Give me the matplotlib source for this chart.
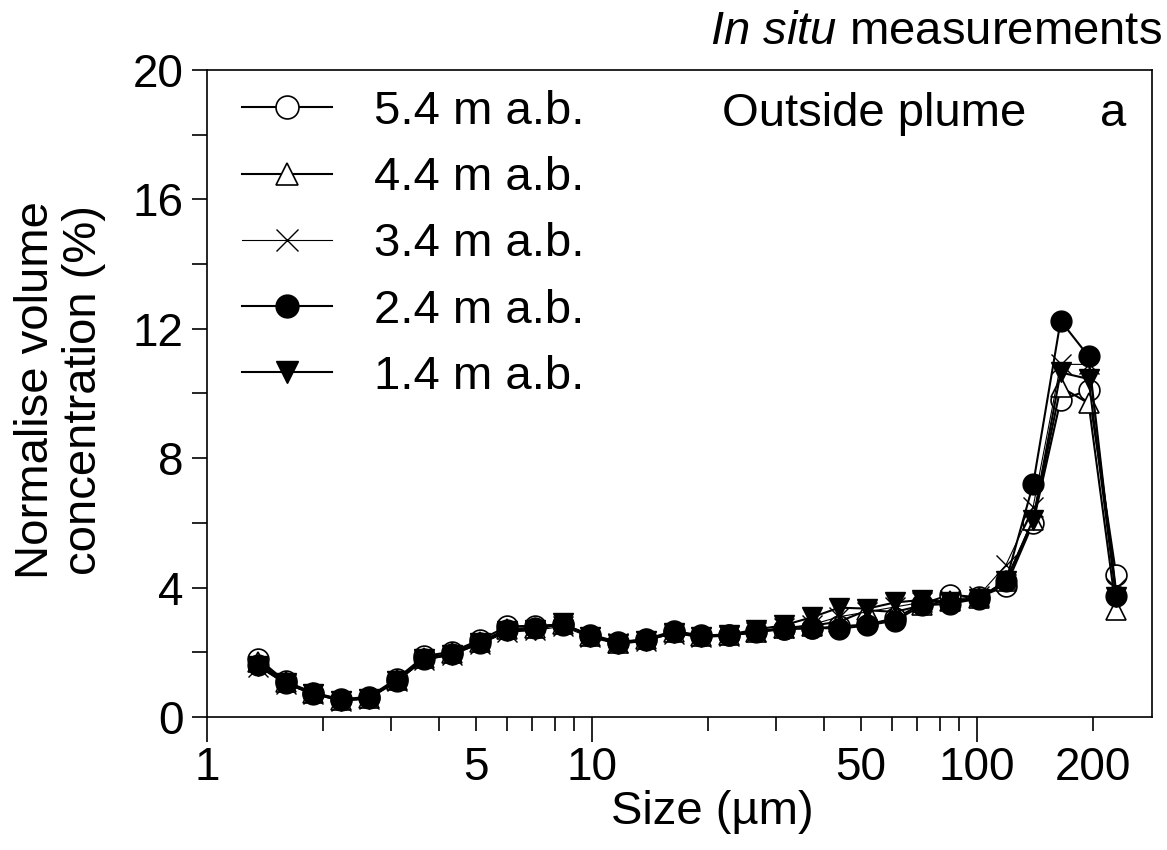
import numpy as np
import matplotlib
matplotlib.use("Agg")
import matplotlib.pyplot as plt
from matplotlib.ticker import FixedLocator, FuncFormatter, NullFormatter

plt.rcParams['font.family'] = ['Liberation Sans', 'DejaVu Sans']
plt.rcParams['mathtext.fontset'] = 'custom'
plt.rcParams['mathtext.rm'] = 'Liberation Sans'
plt.rcParams['mathtext.it'] = 'Liberation Sans:italic'

# particle size bins (um)
size_um = [1.36, 1.60, 1.89, 2.23, 2.63, 3.11, 3.67, 4.33, 5.11, 6.03, 7.11,
           8.39, 9.90, 11.7, 13.8, 16.3, 19.2, 22.7, 26.7, 31.6, 37.2, 43.9,
           51.9, 61.2, 72.2, 85.2, 101, 119, 140, 165, 195, 230]

# normalised volume concentration (%) per height above bottom
conc_54 = [1.80, 1.10, 0.75, 0.55, 0.62, 1.18, 1.88, 2.02, 2.38, 2.80, 2.82,
           2.86, 2.55, 2.32, 2.40, 2.66, 2.52, 2.55, 2.66, 2.72, 2.74, 2.80,
           2.86, 3.05, 3.50, 3.78, 3.70, 4.05, 6.00, 9.80, 10.10, 4.40]
conc_44 = [1.70, 1.08, 0.74, 0.53, 0.60, 1.14, 1.82, 1.97, 2.32, 2.72, 2.76,
           2.88, 2.50, 2.30, 2.40, 2.62, 2.50, 2.52, 2.64, 2.76, 2.82, 2.95,
           3.30, 3.25, 3.45, 3.60, 3.68, 4.20, 6.10, 10.20, 9.70, 3.30]
conc_34 = [1.55, 1.02, 0.70, 0.50, 0.56, 1.10, 1.76, 1.92, 2.25, 2.62, 2.68,
           2.80, 2.46, 2.28, 2.36, 2.58, 2.46, 2.50, 2.62, 2.74, 2.85, 3.10,
           3.25, 3.40, 3.55, 3.62, 3.75, 4.70, 6.50, 10.90, 10.90, 4.00]
conc_24 = [1.62, 1.06, 0.72, 0.52, 0.58, 1.12, 1.80, 1.95, 2.30, 2.70, 2.75,
           2.85, 2.50, 2.30, 2.38, 2.62, 2.50, 2.52, 2.62, 2.72, 2.76, 2.73,
           2.83, 2.98, 3.45, 3.50, 3.66, 4.20, 7.20, 12.25, 11.15, 3.75]
conc_14 = [1.58, 1.04, 0.71, 0.51, 0.57, 1.10, 1.78, 1.93, 2.28, 2.66, 2.70,
           2.90, 2.48, 2.26, 2.36, 2.60, 2.48, 2.55, 2.70, 2.84, 3.08, 3.38,
           3.35, 3.54, 3.62, 3.55, 3.66, 4.20, 6.10, 10.65, 10.45, 3.70]

labels = ['5.4 m a.b.', '4.4 m a.b.', '3.4 m a.b.', '2.4 m a.b.', '1.4 m a.b.']

fig = plt.figure(figsize=(11.67, 8.5), dpi=100)
ax = fig.add_axes([207 / 1167, 1 - 717 / 850, 945 / 1167, 647 / 850])

ms = 15
ax.plot(size_um, conc_54, '-o', color='black', lw=1.5, ms=ms,
        mfc='white', mec='black', mew=1.2, label=labels[0])
ax.plot(size_um, conc_44, '-^', color='black', lw=1.5, ms=ms,
        mfc='white', mec='black', mew=1.2, label=labels[1])
ax.plot(size_um, conc_34, '-x', color='black', lw=0.8, ms=ms,
        mew=1.0, label=labels[2])
ax.plot(size_um, conc_24, '-o', color='black', lw=1.5, ms=ms,
        mfc='black', label=labels[3])
ax.plot(size_um, conc_14, '-v', color='black', lw=1.5, ms=ms,
        mfc='black', label=labels[4])

ax.set_xscale('log')
ax.set_xlim(1, 285)
ax.set_ylim(0, 20)

# x ticks: long at decades, short otherwise; labels at 1,5,10,50,100,200
ax.xaxis.set_major_locator(FixedLocator([1, 10, 100]))
ax.xaxis.set_major_formatter(FuncFormatter(lambda v, p: '%g' % v))
minor_x = [2, 3, 4, 5, 6, 7, 8, 9, 20, 30, 40, 50, 60, 70, 80, 90, 200]
ax.xaxis.set_minor_locator(FixedLocator(minor_x))
ax.xaxis.set_minor_formatter(
    FuncFormatter(lambda v, p: '%g' % v if round(v) in (5, 50, 200) else ''))

ax.yaxis.set_major_locator(FixedLocator([0, 4, 8, 12, 16, 20]))
ax.yaxis.set_minor_locator(FixedLocator([2, 6, 10, 14, 18]))
ax.yaxis.set_minor_formatter(NullFormatter())

ax.tick_params(axis='x', which='major', direction='out', length=18, width=1.2,
               pad=3, labelsize=33)
ax.tick_params(axis='x', which='minor', direction='out', length=10, width=1.2,
               pad=11, labelsize=33)
ax.tick_params(axis='y', which='both', direction='out', length=11, width=1.2,
               pad=6, labelsize=33)

for s in ax.spines.values():
    s.set_linewidth(1.2)

leg = ax.legend(loc='upper left', bbox_to_anchor=(35 / 945, 1 - 20 / 647),
                frameon=False, fontsize=34, markerscale=1.1,
                handlelength=1.9, handletextpad=0.9, labelspacing=0.47,
                borderaxespad=0, borderpad=0)

fig.text(60 / 1167, 1 - 390 / 850, 'Normalise volume\nconcentration (%)',
         rotation=90, ha='center', va='center', fontsize=34, linespacing=1.1)
fig.text(712 / 1167, 1 - 812 / 850, 'Size (µm)', ha='center', va='center',
         fontsize=34)
fig.text(1162 / 1167, 1 - 44 / 850, r'$\it{In\ situ}$ measurements',
         ha='right', va='baseline', fontsize=34)
fig.text(722 / 1167, 1 - 126 / 850, 'Outside plume', ha='left',
         va='baseline', fontsize=34)
fig.text(1100 / 1167, 1 - 126 / 850, 'a', ha='left', va='baseline',
         fontsize=34)

fig.savefig('out.png', dpi=100)
